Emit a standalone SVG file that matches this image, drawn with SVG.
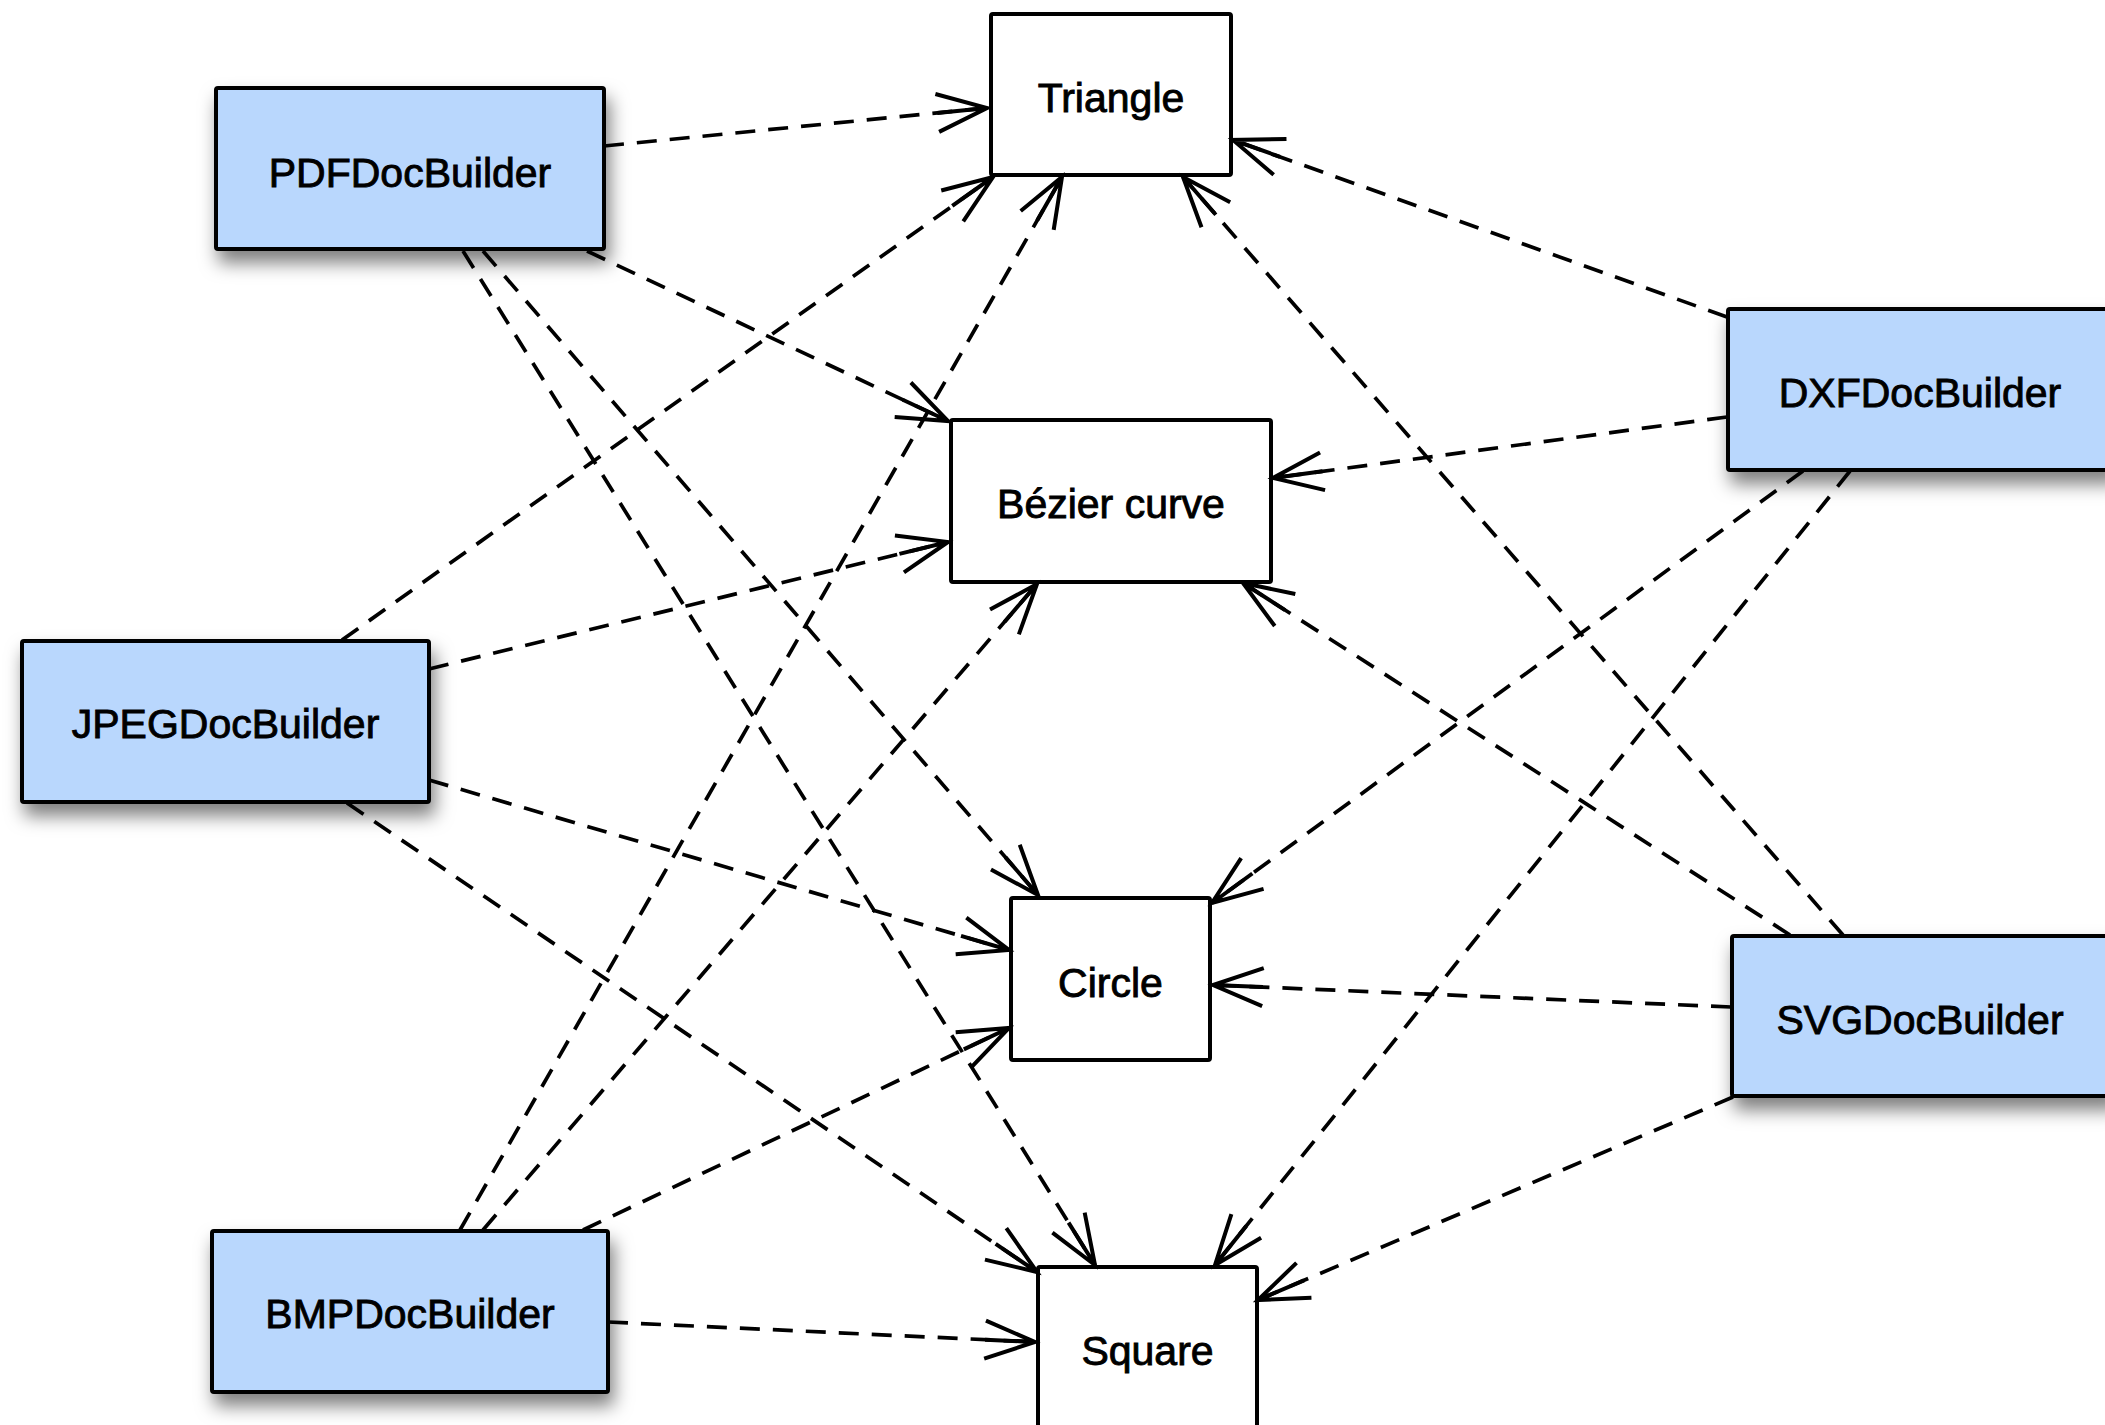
<svg xmlns="http://www.w3.org/2000/svg" width="2105" height="1425" viewBox="0 0 2105 1425">
<defs>
<style>
.box{stroke:#000;stroke-width:4;}
.builder{fill:#b9d7fd;filter:url(#shadow);}
.shape{fill:#fff;}
.lbl{font-family:"Liberation Sans",Arial,sans-serif;font-size:41px;fill:#000;stroke:#000;stroke-width:0.9;text-anchor:middle;}
.conn{fill:none;stroke:#000;stroke-width:3.7;stroke-dasharray:20 13;marker-end:url(#arr);}
</style>
<filter id="shadow" x="-20%" y="-25%" width="145%" height="175%">
<feDropShadow dx="4" dy="12" stdDeviation="9" flood-color="#000" flood-opacity="0.5"/>
</filter>
<marker id="arr" markerUnits="userSpaceOnUse" orient="auto" markerWidth="60" markerHeight="50" refX="0" refY="0" viewBox="-56 -25 60 50" overflow="visible">
<path d="M-50,-19 L0,0 L-50,19 M-50,0 L0,0" fill="none" stroke="#000" stroke-width="4" stroke-linejoin="miter"/>
</marker>
</defs>
<rect width="2105" height="1425" fill="#fff"/>
<g id="node-pdf"><rect class="box builder" x="216" y="88" width="388" height="161" rx="2"/><text class="lbl" x="410" y="187">PDFDocBuilder</text></g>
<g id="node-jpeg"><rect class="box builder" x="22" y="641" width="407" height="161" rx="2"/><text class="lbl" x="225.5" y="738">JPEGDocBuilder</text></g>
<g id="node-bmp"><rect class="box builder" x="212" y="1231" width="396" height="161" rx="2"/><text class="lbl" x="410" y="1328">BMPDocBuilder</text></g>
<g id="node-dxf"><rect class="box builder" x="1728" y="309" width="386" height="161" rx="2"/><text class="lbl" x="1920" y="407">DXFDocBuilder</text></g>
<g id="node-svg"><rect class="box builder" x="1732" y="936" width="382" height="160" rx="2"/><text class="lbl" x="1920" y="1034">SVGDocBuilder</text></g>
<g id="node-triangle"><rect class="box shape" x="991" y="14" width="240" height="161" rx="2"/><text class="lbl" x="1111" y="112">Triangle</text></g>
<g id="node-bezier"><rect class="box shape" x="951" y="420" width="320" height="162" rx="2"/><text class="lbl" x="1111" y="518">Bézier curve</text></g>
<g id="node-circle"><rect class="box shape" x="1011" y="898" width="199" height="162" rx="2"/><text class="lbl" x="1110.5" y="997">Circle</text></g>
<g id="node-square"><rect class="box shape" x="1038" y="1267" width="219" height="162" rx="2"/><text class="lbl" x="1147.5" y="1365">Square</text></g>
<g id="connectors">
<line class="conn" x1="604" y1="146" x2="987" y2="108"/>
<line class="conn" x1="587" y1="251" x2="948" y2="421"/>
<line class="conn" x1="483" y1="251" x2="1038" y2="895"/>
<line class="conn" x1="463" y1="251" x2="1095" y2="1265"/>
<line class="conn" x1="342" y1="640" x2="993" y2="177"/>
<line class="conn" x1="429" y1="669" x2="948" y2="542"/>
<line class="conn" x1="429" y1="780" x2="1009" y2="950"/>
<line class="conn" x1="347" y1="803" x2="1037" y2="1272"/>
<line class="conn" x1="460" y1="1230" x2="1062" y2="177"/>
<line class="conn" x1="483" y1="1230" x2="1037" y2="584"/>
<line class="conn" x1="583" y1="1230" x2="1009" y2="1028"/>
<line class="conn" x1="608" y1="1322" x2="1035" y2="1342"/>
<line class="conn" x1="1727" y1="317" x2="1233" y2="140"/>
<line class="conn" x1="1727" y1="417" x2="1273" y2="478"/>
<line class="conn" x1="1803" y1="471" x2="1212" y2="903"/>
<line class="conn" x1="1850" y1="471" x2="1215" y2="1265"/>
<line class="conn" x1="1843" y1="935" x2="1183" y2="177"/>
<line class="conn" x1="1790" y1="935" x2="1243" y2="583"/>
<line class="conn" x1="1731" y1="1007" x2="1213" y2="985"/>
<line class="conn" x1="1733" y1="1097" x2="1258" y2="1300"/>
</g>
</svg>
